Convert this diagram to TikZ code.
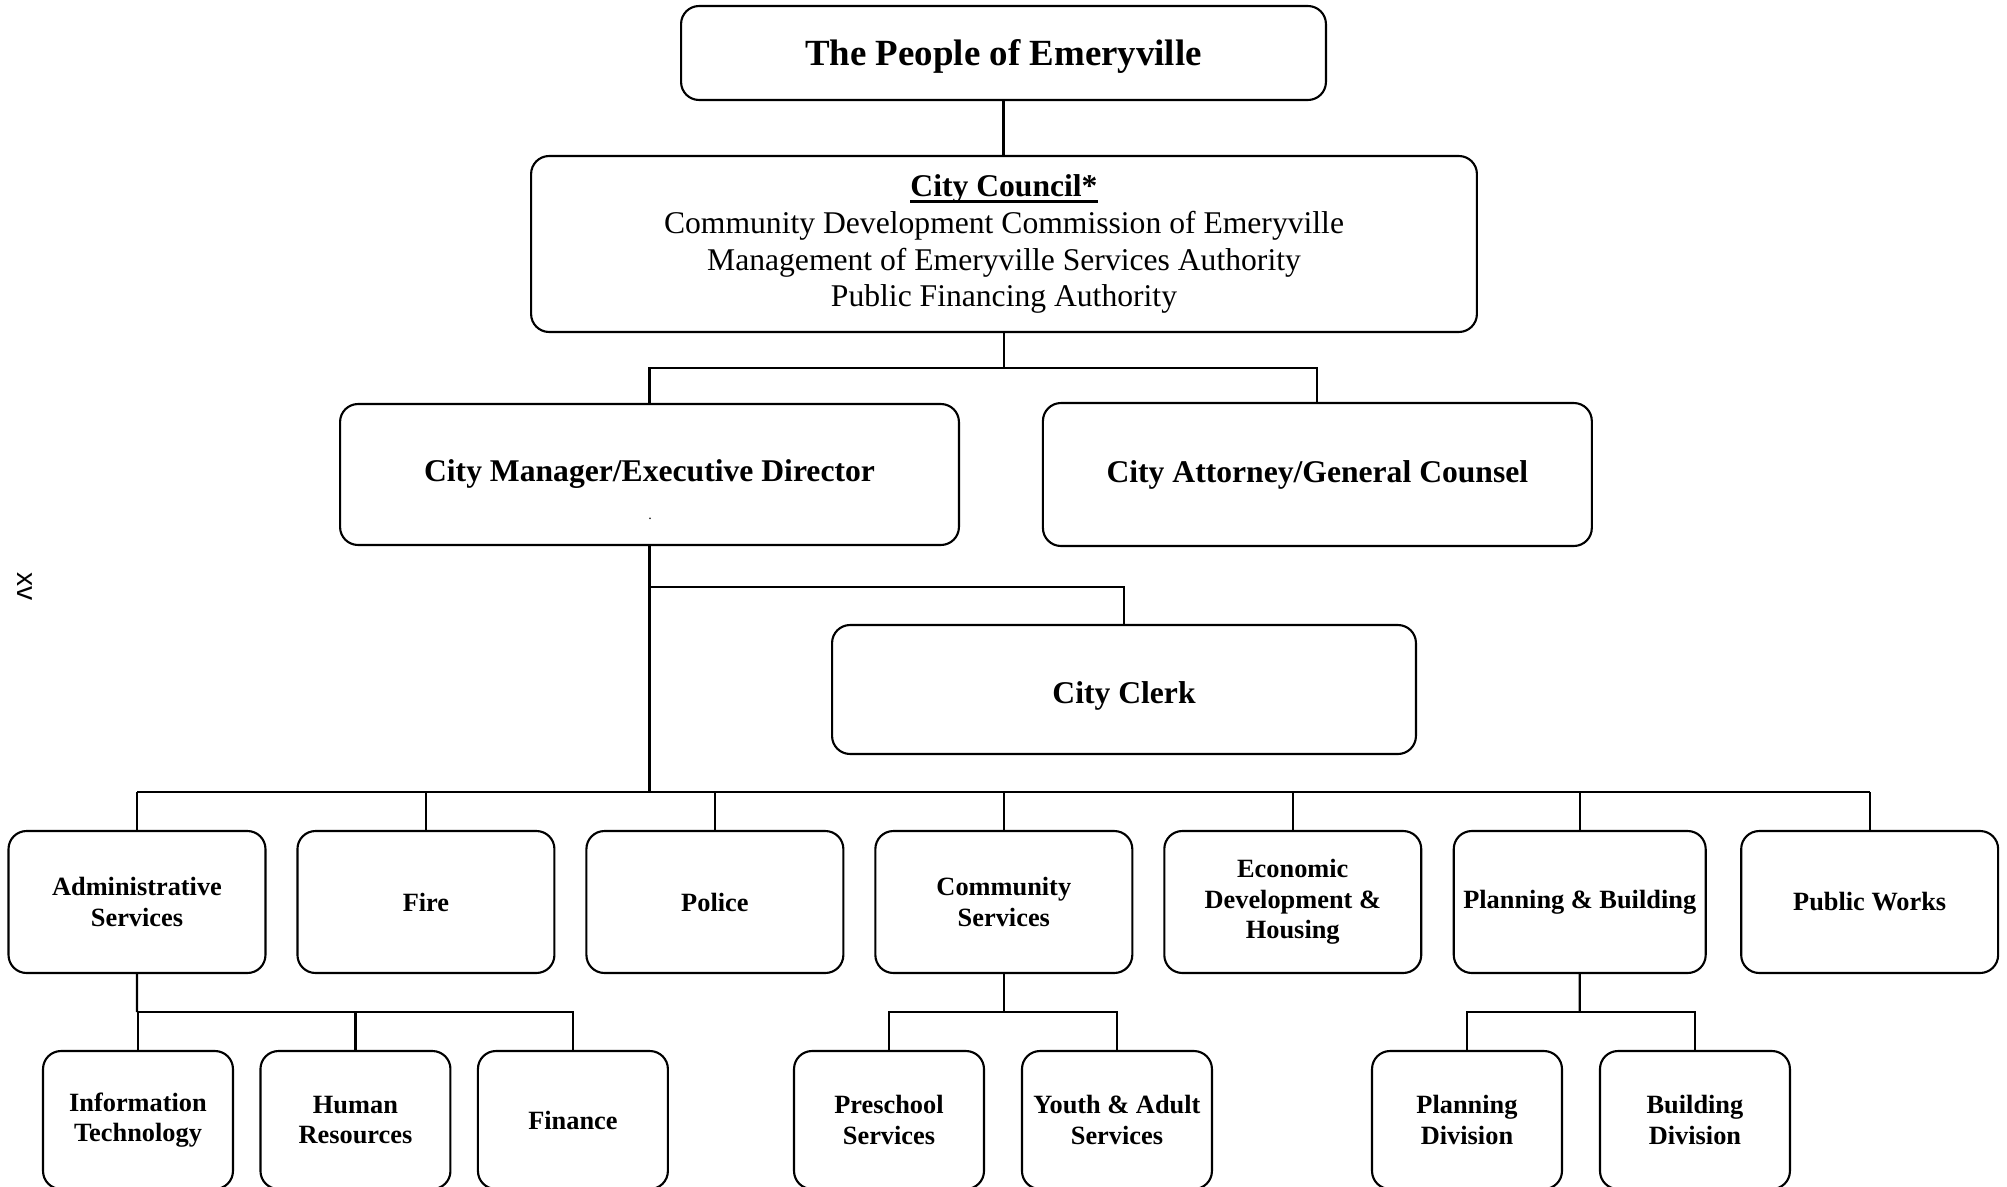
\documentclass[tikz,border=0pt]{standalone}
\usepackage{fontspec}
\setmainfont{Liberation Serif}
\newfontfamily\pagenofont{Liberation Sans}
\usetikzlibrary{positioning,calc}

% bold heading with a heavy underline
\newcommand{\headline}[1]{\setbox0=\hbox{#1}\rlap{\rule[-3.8pt]{\wd0}{1.6pt}}\box0}

\begin{document}
\begin{tikzpicture}[x=0.02cm, y=-0.02cm, line width=1.2pt,
    box/.style={align=center, draw, rounded corners=0.36cm, inner sep=2pt, line width=1.2pt},
    topbox/.style={box, font=\bfseries\fontsize{18}{21}\selectfont},
    dept/.style={box, minimum width=5.14cm, minimum height=2.84cm, font=\bfseries\fontsize{15}{17.5}\selectfont},
    unit/.style={box, minimum width=3.8cm, minimum height=2.76cm, font=\bfseries\fontsize{15}{17.5}\selectfont}]
    \useasboundingbox (0,0) rectangle (2007,1186);

    % People and council
    \node [box, minimum width=12.9cm, minimum height=1.88cm, text height=14pt, text depth=0pt, font=\bfseries\fontsize{21}{25}\selectfont] (people) at (1003.5,53) {The People of Emeryville};
    \node [box, minimum width=18.92cm, minimum height=3.52cm, font=\fontsize{18}{21}\selectfont] (council) at (1004,244) {\textbf{\headline{City Council*}}\\ Community Development Commission of Emeryville\\ Management of Emeryville Services Authority\\ Public Financing Authority};

    % Manager, attorney and clerk
    \node [topbox, minimum width=12.38cm, minimum height=2.82cm] (manager) at (649.5,474.5) {City Manager/Executive Director};
    \node [topbox, minimum width=10.98cm, minimum height=2.86cm, right of=manager, node distance=13.36cm] (attorney) {City Attorney/General Counsel};
    \node [font=\fontsize{8}{8}\selectfont, inner sep=0pt] (stray) at (650,519) {.};
    \node [topbox, minimum width=11.68cm, minimum height=2.58cm, text height=15.6pt, text depth=0pt] (clerk) at (1124,689.5) {City Clerk};

    % Departments
    \node [dept] (admin) at (137,902) {Administrative\\ Services};
    \node [dept, right of=admin, node distance=5.78cm] (fire) {Fire};
    \node [dept, right of=fire, node distance=5.78cm] (police) {Police};
    \node [dept, right of=police, node distance=5.78cm] (community) {Community\\ Services};
    \node [dept, right of=community, node distance=5.78cm] (econ) {Economic\\ Development \&\\ Housing};
    \node [dept, minimum width=5.04cm, right of=econ, node distance=5.74cm] (planning) {Planning \& Building};
    \node [dept, right of=planning, node distance=5.8cm] (works) {Public Works};

    % Divisions
    \node [unit] (infotech) at (138,1120) {Information\\ Technology};
    \node [unit, right of=infotech, node distance=4.35cm] (hr) {Human\\ Resources};
    \node [unit, right of=hr, node distance=4.35cm] (finance) {Finance};
    \node [unit] (preschool) at (889,1120) {Preschool\\ Services};
    \node [unit, right of=preschool, node distance=4.56cm] (youth) {Youth \& Adult\\ Services};
    \node [unit] (plandiv) at (1467,1120) {Planning\\ Division};
    \node [unit, right of=plandiv, node distance=4.56cm] (builddiv) {Building\\ Division};

    \node [rotate=-90, font=\pagenofont\fontsize{16}{18}\selectfont] (pageno) at (24.5,586.5) {xv};

    % Connectors
    \draw (people.south) -- (people.south |- council.north);
    \coordinate (split) at ($(council.south)+(0,35)$);
    \draw (council.south) -- (split);
    \draw (manager.north) |- (split) -| (attorney.north);

    \coordinate (clerkbus) at ($(manager.south)+(0,41)$);
    \coordinate (deptbus) at ($(manager.south)+(0,246)$);
    \draw (manager.south) -- (deptbus);
    \draw (clerkbus) -| (clerk.north);
    \draw (deptbus -| admin.north) -- (deptbus -| works.north);
    \foreach \d in {admin,fire,police,community,econ,planning,works}
        \draw (\d.north) -- (\d.north |- deptbus);

    \foreach \p/\a/\b in {admin/infotech/finance, community/preschool/youth, planning/plandiv/builddiv} {
        \coordinate (bus\p) at ($(\p.south)!0.5!(\p.south |- \a.north)$);
        \draw (\p.south) -- (bus\p);
        \draw (\a.north) |- (bus\p -| \b.north) -- (\b.north);
    }
    \draw (hr.north) -- (hr.north |- busadmin);
\end{tikzpicture}
\end{document}
